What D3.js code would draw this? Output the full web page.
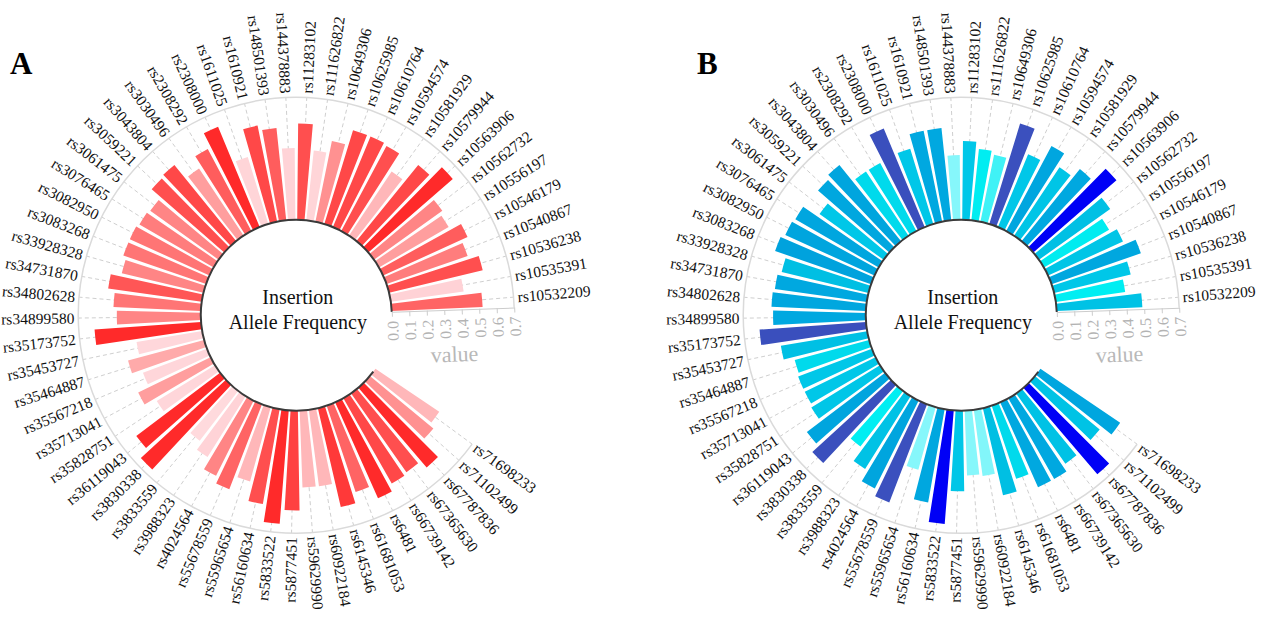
<!DOCTYPE html>
<html>
<head>
<meta charset="utf-8">
<script src="https://cdn.jsdelivr.net/npm/d3@7"></script>
<style>
  html, body { margin: 0; padding: 0; background: #fff; }
  svg { display: block; }
</style>
</head>
<body>
<svg id="chart" width="1263" height="617"></svg>
<script>
// Insertion allele frequency per SNP, two populations (panel A and panel B)
const snpIds = [
  "rs10532209", "rs10535391", "rs10536238", "rs10540867", "rs10546179", "rs10556197",
  "rs10562732", "rs10563906", "rs10579944", "rs10581929", "rs10594574", "rs10610764",
  "rs10625985", "rs10649306", "rs111626822", "rs11283102", "rs144378883", "rs148501393",
  "rs1610921", "rs1611025", "rs2308000", "rs2308292", "rs3030496", "rs3043804",
  "rs3059221", "rs3061475", "rs3076465", "rs3082950", "rs3083268", "rs33928328",
  "rs34731870", "rs34802628", "rs34899580", "rs35173752", "rs35453727", "rs35464887",
  "rs35567218", "rs35713041", "rs35828751", "rs36119043", "rs3830338", "rs3833559",
  "rs3988323", "rs4024564", "rs55678559", "rs55965654", "rs56160634", "rs5833522",
  "rs5877451", "rs59629990", "rs60922184", "rs6145346", "rs61681053", "rs6481",
  "rs66739142", "rs67365630", "rs67787836", "rs71102499", "rs71698233"
];

const freqA = [
  0.52, 0.42, 0.55, 0.49, 0.53, 0.46, 0.48, 0.64, 0.56, 0.44,
  0.55, 0.56, 0.56, 0.47, 0.40, 0.55, 0.41, 0.53, 0.56, 0.40,
  0.62, 0.53, 0.46, 0.56, 0.55, 0.48, 0.49, 0.50, 0.50, 0.48,
  0.54, 0.50, 0.48, 0.61, 0.38, 0.45, 0.39, 0.46, 0.39, 0.60,
  0.66, 0.36, 0.41, 0.48, 0.52, 0.44, 0.55, 0.65, 0.57, 0.44,
  0.44, 0.58, 0.52, 0.60, 0.56, 0.55, 0.60, 0.47, 0.44
];

const freqB = [
  0.49, 0.40, 0.45, 0.54, 0.47, 0.43, 0.50, 0.63, 0.53, 0.47,
  0.55, 0.45, 0.60, 0.39, 0.41, 0.45, 0.37, 0.53, 0.53, 0.45,
  0.61, 0.44, 0.44, 0.56, 0.54, 0.45, 0.55, 0.56, 0.58, 0.51,
  0.53, 0.54, 0.53, 0.61, 0.50, 0.44, 0.45, 0.45, 0.46, 0.56,
  0.61, 0.40, 0.49, 0.56, 0.60, 0.37, 0.54, 0.65, 0.46, 0.37,
  0.38, 0.51, 0.44, 0.53, 0.53, 0.49, 0.65, 0.48, 0.55
];

const freqTicks = [0.0, 0.1, 0.2, 0.3, 0.4, 0.5, 0.6, 0.7];
const panelLetters = ["A", "B"];
const centerTitle = ["Insertion", "Allele Frequency"];
const radiusAxisName = "value";

// colour ramps keyed on frequency
const rampStopsA = [0.36, 0.42, 0.45, 0.48, 0.52, 0.56, 0.60];
const rampColorsA = ["#ffdadd", "#ffd2d6", "#ffaaaa", "#ff8585", "#ff6464", "#ff4848", "#ff2a2a"];
const rampStopsB = [0.37, 0.385, 0.395, 0.435, 0.445, 0.51, 0.525, 0.58, 0.59, 0.615, 0.625];
const rampColorsB = ["#86f7fb", "#80f5fa", "#00eef2", "#00ecf0", "#00c8e8", "#00bfe3",
                     "#00a9e0", "#00a2dd", "#3b50bf", "#3a4fbd", "#0000f6"];

// ---- layout ----
const FONT = '"Liberation Serif", "Times New Roman", Times, serif';
const centers = [[296.3, 315.2], [961.3, 315.3]];
const letterPos = [[10, 74], [697, 74]];
const innerR = 95.5, outerR = 218;
const startDeg = 2, stepDeg = 5.5;
const deg = Math.PI / 180;

const svg = d3.select("#chart");

function drawPanel(panel, values, color) {
  const [cx, cy] = centers[panel];
  const g = svg.append("g").attr("transform", `translate(${cx},${cy})`);

  // angles measured counter-clockwise from 3 o'clock
  const a0 = startDeg * deg;
  const angle = d3.scaleBand()
    .domain(snpIds)
    .range([a0, a0 + snpIds.length * stepDeg * deg])
    .paddingInner(0.2)
    .paddingOuter(0.1);
  const mid = id => angle(id) + angle.bandwidth() / 2;
  const radius = d3.scaleLinear().domain([0, 0.7]).range([innerR, outerR]);
  const aEnd = mid(snpIds[snpIds.length - 1]);

  const px = (r, a) => r * Math.cos(a);
  const py = (r, a) => -r * Math.sin(a);

  // dashed spokes
  g.append("g").selectAll("line").data(snpIds).join("line")
    .attr("x1", d => px(innerR, mid(d))).attr("y1", d => py(innerR, mid(d)))
    .attr("x2", d => px(outerR, mid(d))).attr("y2", d => py(outerR, mid(d)))
    .attr("stroke", "#cfcfcf").attr("stroke-width", 1)
    .attr("stroke-dasharray", "4,3");

  // outer ring
  const ring = d3.path();
  ring.arc(0, 0, outerR, -a0, -aEnd, true);
  g.append("path").attr("d", ring.toString())
    .attr("fill", "none").attr("stroke", "#dadada").attr("stroke-width", 1.5);

  // bars
  const arc = d3.arc()
    .innerRadius(innerR)
    .outerRadius(d => radius(d.v))
    .startAngle(d => Math.PI / 2 - (angle(d.id) + angle.bandwidth()))
    .endAngle(d => Math.PI / 2 - angle(d.id));
  g.append("g").selectAll("path")
    .data(snpIds.map((id, i) => ({ id, v: values[i] })))
    .join("path")
    .attr("d", arc)
    .attr("fill", d => color(d.v));

  // inner ring
  const inner = d3.path();
  inner.arc(0, 0, innerR, -a0, -aEnd, true);
  g.append("path").attr("d", inner.toString())
    .attr("fill", "none").attr("stroke", "#3a3a3a").attr("stroke-width", 2);

  // radius axis along the start angle
  const axisG = g.append("g")
    .attr("transform", `rotate(${-startDeg})`)
    .call(d3.axisBottom(radius)
      .tickValues(freqTicks)
      .tickFormat(d3.format(".1f"))
      .tickSize(5)
      .tickSizeOuter(0));
  axisG.select(".domain").attr("stroke", "#cccccc");
  axisG.selectAll(".tick line").attr("stroke", "#cccccc");
  axisG.selectAll(".tick text")
    .attr("x", 0).attr("y", 0).attr("dy", "0.35em")
    .attr("transform", "translate(0,9) rotate(-90)")
    .attr("text-anchor", "end")
    .attr("fill", "#b3b3b3")
    .style("font-family", FONT).style("font-size", "16px");
  axisG.append("text")
    .attr("x", radius(0.35)).attr("y", 52)
    .attr("text-anchor", "middle")
    .attr("fill", "#b8b8b8")
    .style("font-family", FONT).style("font-size", "22px")
    .text(radiusAxisName);

  // category labels
  g.append("g").selectAll("text").data(snpIds).join("text")
    .each(function (d) {
      const a = mid(d) / deg;
      const flip = a > 90 && a < 270;
      d3.select(this)
        .attr("transform", `rotate(${-a}) translate(${outerR + 4},0)` + (flip ? " rotate(180)" : ""))
        .attr("text-anchor", flip ? "end" : "start");
    })
    .attr("dy", "0.35em")
    .attr("fill", "#111")
    .style("font-family", FONT).style("font-size", "15.5px")
    .text(d => d);

  // centre title
  const t = g.append("text")
    .attr("text-anchor", "middle")
    .attr("fill", "#111")
    .style("font-family", FONT).style("font-size", "20px");
  t.append("tspan").attr("x", 1.5).attr("y", -11).text(centerTitle[0]);
  t.append("tspan").attr("x", 1.5).attr("y", 14).text(centerTitle[1]);

  // panel letter
  svg.append("text")
    .attr("x", letterPos[panel][0]).attr("y", letterPos[panel][1])
    .attr("fill", "#000")
    .style("font-family", FONT).style("font-size", "31px").style("font-weight", "bold")
    .text(panelLetters[panel]);
}

const colorA = d3.scaleLinear().domain(rampStopsA).range(rampColorsA).clamp(true);
const colorB = d3.scaleLinear().domain(rampStopsB).range(rampColorsB).clamp(true);

drawPanel(0, freqA, colorA);
drawPanel(1, freqB, colorB);
</script>
</body>
</html>
